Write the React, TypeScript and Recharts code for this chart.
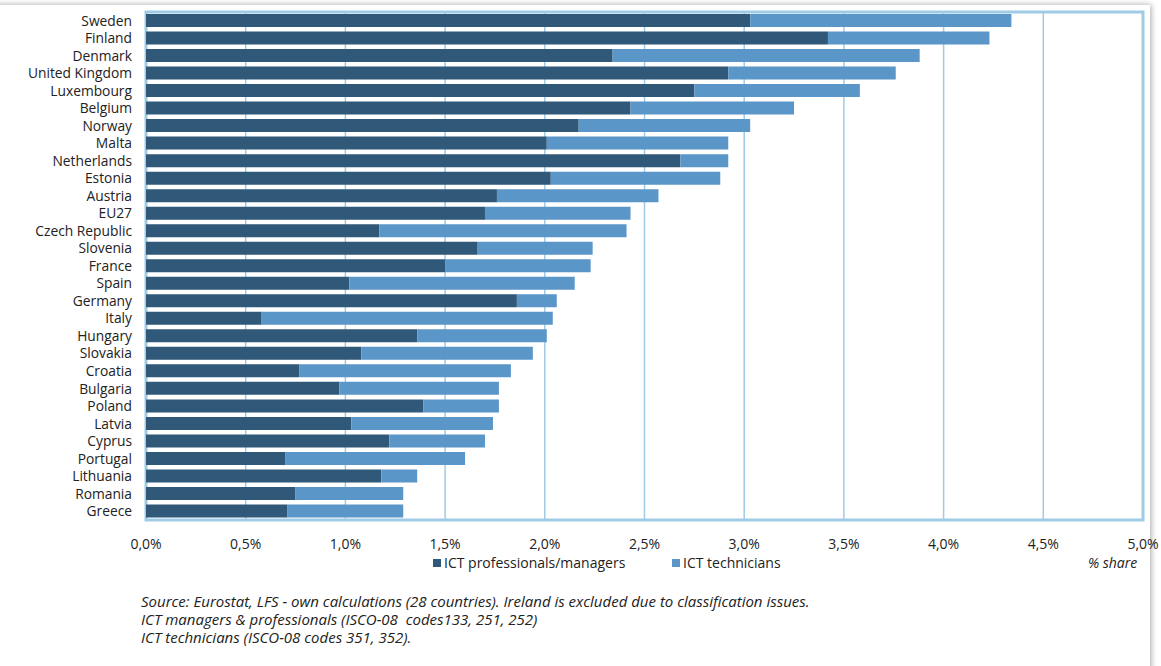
import {
  Bar,
  BarChart,
  CartesianGrid,
  ReferenceArea,
  XAxis,
  YAxis,
} from "recharts";

const COUNTRIES = [
  "Sweden", "Finland", "Denmark", "United Kingdom", "Luxembourg", "Belgium",
  "Norway", "Malta", "Netherlands", "Estonia", "Austria", "EU27",
  "Czech Republic", "Slovenia", "France", "Spain", "Germany", "Italy",
  "Hungary", "Slovakia", "Croatia", "Bulgaria", "Poland", "Latvia",
  "Cyprus", "Portugal", "Lithuania", "Romania", "Greece",
];

// ICT professionals/managers, % share
const PROFESSIONALS = [
  3.03, 3.42, 2.34, 2.92, 2.75, 2.43, 2.17, 2.01, 2.68, 2.03, 1.76, 1.70,
  1.17, 1.66, 1.50, 1.02, 1.86, 0.58, 1.36, 1.08, 0.77, 0.97, 1.39, 1.03,
  1.22, 0.70, 1.18, 0.75, 0.71,
];

// ICT technicians, % share
const TECHNICIANS = [
  1.31, 0.81, 1.54, 0.84, 0.83, 0.82, 0.86, 0.91, 0.24, 0.85, 0.81, 0.73,
  1.24, 0.58, 0.73, 1.13, 0.20, 1.46, 0.65, 0.86, 1.06, 0.80, 0.38, 0.71,
  0.48, 0.90, 0.18, 0.54, 0.58,
];

const X_TICKS = [0, 0.5, 1, 1.5, 2, 2.5, 3, 3.5, 4, 4.5, 5];

const FOOTNOTES = [
  "Source: Eurostat, LFS - own calculations (28 countries). Ireland is excluded due to classification issues.",
  "ICT managers & professionals (ISCO-08  codes133, 251, 252)",
  "ICT technicians (ISCO-08 codes 351, 352).",
];

const data = COUNTRIES.map((country, i) => ({
  country,
  professionals: PROFESSIONALS[i],
  technicians: TECHNICIANS[i],
}));

const DARK = "#2f5879";
const LIGHT = "#5b96c9";
const FRAME = "#9fcbe6";
const FONT = "'Open Sans', sans-serif";
const TEXT = "#222";

function formatPct(v: number): string {
  return `${v.toFixed(1).replace(".", ",")}%`;
}

function LegendItem({ color, label, left }: { color: string; label: string; left: number }) {
  return (
    <div
      style={{
        position: "absolute",
        left,
        top: 0,
        display: "flex",
        alignItems: "center",
        whiteSpace: "nowrap",
      }}
    >
      <span
        style={{
          width: 8,
          height: 8,
          background: color,
          display: "inline-block",
          marginRight: 3,
        }}
      />
      <span>{label}</span>
    </div>
  );
}

export default function App() {
  return (
    <div
      style={{
        position: "absolute",
        left: 0,
        top: 0,
        width: 1161,
        height: 666,
        background: "#fff",
        overflow: "hidden",
        fontFamily: FONT,
        color: TEXT,
      }}
    >
      <div
        style={{
          position: "absolute",
          left: -10,
          top: 5,
          width: 1160,
          height: 700,
          boxShadow: "1px 0 6px rgba(0,0,0,0.35)",
          background: "#fff",
        }}
      />
      <div style={{ position: "absolute", left: 0, top: 0 }}>
        <BarChart
          width={1161}
          height={580}
          data={data}
          layout="vertical"
          margin={{ top: 12, right: 18, left: 0, bottom: 0 }}
          barSize={13}
        >
          <CartesianGrid horizontal={false} stroke={FRAME} strokeWidth={1.5} />
          <ReferenceArea
            x1={0}
            x2={5}
            fill="none"
            stroke={FRAME}
            strokeWidth={3}
            ifOverflow="visible"
          />
          <XAxis
            type="number"
            domain={[0, 5]}
            ticks={X_TICKS}
            tickFormatter={formatPct}
            axisLine={false}
            tickLine={false}
            tickSize={0}
            tickMargin={19}
            height={60}
            tick={{ fontSize: 14, fill: TEXT, fontFamily: FONT }}
          />
          <YAxis
            type="category"
            dataKey="country"
            width={146}
            interval={0}
            axisLine={false}
            tickLine={false}
            tickSize={0}
            tickMargin={14}
            tick={{ fontSize: 13.8, fill: TEXT, fontFamily: FONT }}
          />
          <Bar
            dataKey="professionals"
            name="ICT professionals/managers"
            stackId="a"
            fill={DARK}
            isAnimationActive={false}
          />
          <Bar
            dataKey="technicians"
            name="ICT technicians"
            stackId="a"
            fill={LIGHT}
            isAnimationActive={false}
          />
        </BarChart>
      </div>
      <div style={{ position: "absolute", left: 0, top: 553, width: 1161, height: 20, fontSize: 14 }}>
        <LegendItem color={DARK} label="ICT professionals/managers" left={433} />
        <LegendItem color={LIGHT} label="ICT technicians" left={672} />
        <div style={{ position: "absolute", left: 1088, top: 0, fontStyle: "italic", whiteSpace: "nowrap" }}>
          % share
        </div>
      </div>
      <div
        style={{
          position: "absolute",
          left: 141,
          top: 592,
          fontSize: 15,
          fontStyle: "italic",
          lineHeight: "18px",
        }}
      >
        {FOOTNOTES.map((line) => (
          <div key={line} style={{ whiteSpace: "pre" }}>
            {line}
          </div>
        ))}
      </div>
    </div>
  );
}
